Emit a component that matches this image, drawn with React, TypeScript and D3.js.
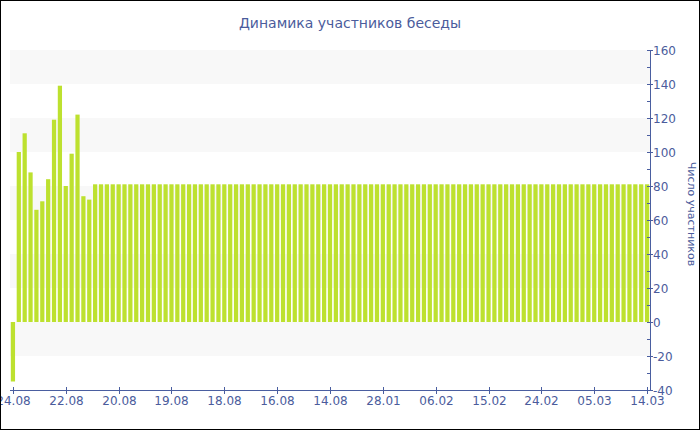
import React from "react";
import * as d3 from "d3";

const title = "Динамика участников беседы";
const yTitle = "Число участников";
const tickLabels = ["24.08", "22.08", "20.08", "19.08", "18.08", "16.08", "14.08", "28.01", "06.02", "15.02", "24.02", "05.03", "14.03"];
const values = [
  -35, 100, 111, 88, 66, 71, 84, 119, 139, 80, 99, 122, 74, 72,
  81, 81, 81, 81, 81, 81, 81, 81, 81, 81, 81, 81, 81, 81, 81, 81, 81, 81, 81, 81,
  81, 81, 81, 81, 81, 81, 81, 81, 81, 81, 81, 81, 81, 81, 81, 81, 81, 81, 81, 81,
  81, 81, 81, 81, 81, 81, 81, 81, 81, 81, 81, 81, 81, 81, 81, 81, 81, 81, 81, 81,
  81, 81, 81, 81, 81, 81, 81, 81, 81, 81, 81, 81, 81, 81, 81, 81, 81, 81, 81, 81,
  81, 81, 81, 81, 81, 81, 81, 81, 81, 81, 81, 81, 81, 81, 81,
];
const tickEvery = 9;
const yTicks = [-40, -20, 0, 20, 40, 60, 80, 100, 120, 140, 160];
const yMinorTicks = [-30, -10, 10, 30, 50, 70, 90, 110, 130, 150];
const bands = [[140, 160], [100, 120], [60, 80], [20, 40], [-20, 0]];

const W = 700, H = 430;
const L = 10, R = 650, T = 50, B = 390;
const axisColor = "#4a5ea0";
const textColor = "#4b5c9c";
const barColor = "#bde12f";
const font = "'DejaVu Sans', Verdana, sans-serif";

export default function App() {
  const x = d3.scaleBand<number>()
    .domain(values.map((_, i) => i))
    .range([L, R])
    .paddingInner(0.28)
    .paddingOuter(0.14);
  const y = d3.scaleLinear().domain([-40, 160]).range([B, T]);
  const bw = x.bandwidth();

  return (
    <svg width={W} height={H} style={{ position: "fixed", left: 0, top: 0, background: "#fff" }} fontFamily={font}>
      <defs>
        <clipPath id="clip">
          <rect x={1} y={1} width={W - 2} height={H - 2} />
        </clipPath>
      </defs>
      <g clipPath="url(#clip)">
        {bands.map(([a, b], i) => (
          <rect key={i} x={L} width={R - L} y={y(b)} height={y(a) - y(b)} fill="#f8f8f8" />
        ))}
        {values.map((v, i) => (
          <rect key={i} x={x(i)} width={bw} y={y(Math.max(0, v))} height={Math.abs(y(v) - y(0))} fill={barColor} />
        ))}
        <text x={350} y={28} textAnchor="middle" fontSize={14} fill={textColor}>{title}</text>
        {/* x axis */}
        <line x1={L} x2={R} y1={B + 0.5} y2={B + 0.5} stroke={axisColor} />
        {tickLabels.map((lab, k) => {
          const cx = Math.round((x(k * tickEvery) as number) + bw / 2) + 0.5;
          return (
            <g key={k}>
              <line x1={cx} x2={cx} y1={B - 3} y2={B + 4} stroke={axisColor} />
              <text x={cx} y={405} textAnchor="middle" fontSize={12} fill={textColor}>{lab}</text>
            </g>
          );
        })}
        {/* y axis */}
        <line x1={R + 0.5} x2={R + 0.5} y1={T} y2={B} stroke={axisColor} />
        {yTicks.map((t) => (
          <g key={t}>
            <line x1={R - 3} x2={R + 3} y1={Math.round(y(t)) + 0.5} y2={Math.round(y(t)) + 0.5} stroke={axisColor} />
            <text x={R + 3} y={y(t) + 4.5} fontSize={12} fill={textColor}>{t}</text>
          </g>
        ))}
        {yMinorTicks.map((t) => (
          <line key={t} x1={R - 3} x2={R} y1={Math.round(y(t)) + 0.5} y2={Math.round(y(t)) + 0.5} stroke={axisColor} />
        ))}
        <text transform={`translate(688,214) rotate(90)`} textAnchor="middle" fontSize={11} fill={textColor}>{yTitle}</text>
      </g>
      <rect x={0.5} y={0.5} width={W - 1} height={H - 1} fill="none" stroke="#000" />
    </svg>
  );
}
